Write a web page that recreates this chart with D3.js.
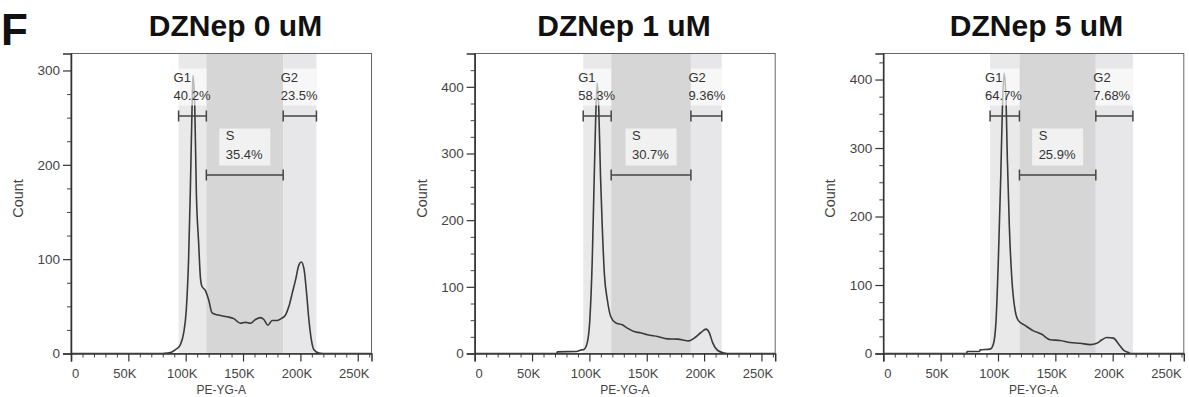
<!DOCTYPE html>
<html>
<head>
<meta charset="utf-8">
<script src="https://cdn.jsdelivr.net/npm/d3@7"></script>
<style>
  body { margin: 0; background: #fff; }
  text { font-family: "Liberation Sans", Arial, Helvetica, sans-serif; }
</style>
</head>
<body>
<svg id="fig" width="1189" height="397"></svg>
<script>
// ---- data ----
var panelTitles = ["DZNep 0 uM", "DZNep 1 uM", "DZNep 5 uM"];
var yMaxes = [318, 450, 438];
var yMajor = [[0, 100, 200, 300], [0, 100, 200, 300, 400], [0, 100, 200, 300, 400]];
var xTickK = [0, 50, 100, 150, 200, 250];
var xTickLabels = ["0", "50K", "100K", "150K", "200K", "250K"];

// gate limits in K units: [G1 start, S start, G2 start, G2 end]
var gates0 = [93.8, 118, 185, 214];
var gates1 = [94.6, 119, 188.5, 215.4];
var gates5 = [93.1, 118.7, 185.3, 217.6];
var g1Pct = ["40.2%", "58.3%", "64.7%"];
var sPct = ["35.4%", "30.7%", "25.9%"];
var g2Pct = ["23.5%", "9.36%", "7.68%"];

// histogram: PE-YG-A (K) and counts
var pe0 = [0, 80, 83.6, 88, 90.9, 95.3, 98.2, 100.5, 102.5, 104, 105.5, 106.3, 107.8, 109.3, 111.3, 112.8, 114.2, 117.1, 120, 123, 127.4, 136.1, 141.9, 147.7, 152.1, 156.5, 160.8, 165.2, 168.1, 171.6, 175.4, 179.8, 183.3, 187.1, 190, 192.9, 195.8, 198.7, 200.8, 203.1, 205.4, 207.4, 209.5, 211.8, 216.2, 220, 262];
var count0 = [0, 0, 0.4, 1.5, 3.9, 9.2, 21.5, 46, 99, 170, 258, 295, 268, 170, 117, 81, 71, 67, 57, 43, 41, 39, 37, 32, 33, 32, 36, 38, 36, 30, 35, 35, 37, 41, 50, 64, 78, 94, 97, 90, 64, 36, 15, 4, 0.4, 0, 0];
var pe1 = [0, 71.8, 72, 89, 92, 95.1, 98.1, 100.4, 102.5, 103.9, 105.3, 106.8, 108.2, 109.7, 111.2, 113.2, 115.6, 118.5, 122.9, 128.7, 133.1, 138.9, 144.7, 150.6, 159.4, 168.1, 176.9, 187, 191.4, 197.3, 201.7, 204.6, 207.5, 211.9, 217.7, 220, 262];
var count1 = [0, 0, 2.5, 3, 5, 6, 16, 51, 141, 241, 341, 406, 366, 266, 191, 116, 81, 56, 46, 43, 38, 33, 31, 28, 25.5, 22, 21.5, 19, 23, 31.5, 36.6, 31, 16, 4.5, 0.6, 0, 0];
var pe5 = [0, 72.8, 73, 84, 84.4, 93.1, 96, 98.3, 100.3, 102.4, 103.8, 105.3, 106.8, 108.2, 109.9, 112, 114.9, 117.8, 123.6, 130.9, 138.2, 145.5, 154.2, 162.9, 171.6, 180.4, 186.2, 190.6, 194.9, 200.7, 205.1, 209.4, 213.8, 216, 262];
var count5 = [0, 0, 3, 3, 5.4, 6.4, 14, 48, 136, 258, 355, 409, 380, 282, 185, 111, 63, 48, 41, 33, 28, 20, 19, 16, 15, 13, 15, 20, 23.4, 22.5, 14, 5, 1.5, 0, 0];

// ---- layout ----
var panelLeft = [71, 474.7, 883.3];
var titleX = [235.5, 624, 1036.5];
var plotTop = 53.5, plotH = 300, plotW = 300.5, xMaxK = 262;

var svg = d3.select("#fig");

svg.append("text").attr("x", 1).attr("y", 45)
  .attr("font-size", 44).attr("font-weight", "bold").attr("fill", "#111")
  .text("F");

var panels = [
  { pe: pe0, count: count0, gates: gates0 },
  { pe: pe1, count: count1, gates: gates1 },
  { pe: pe5, count: count5, gates: gates5 }
];

panels.forEach(function(p, i) {
  var left = panelLeft[i];
  var x = d3.scaleLinear().domain([0, xMaxK]).range([0, plotW]);
  var y = d3.scaleLinear().domain([0, yMaxes[i]]).range([plotH, 0]);

  svg.append("text").attr("x", titleX[i]).attr("y", 36)
    .attr("text-anchor", "middle").attr("font-size", 30).attr("font-weight", "bold")
    .attr("fill", "#111").text(panelTitles[i]);

  var g = svg.append("g").attr("transform", "translate(" + left + "," + plotTop + ")");

  g.append("clipPath").attr("id", "clip" + i)
    .append("rect").attr("width", plotW).attr("height", plotH);

  var gt = p.gates;
  var bands = [[gt[0], gt[1], "#e9e9e9"], [gt[1], gt[2], "#d6d6d6"], [gt[2], gt[3], "#e7e7e9"]];
  g.selectAll("rect.band").data(bands).enter().append("rect")
    .attr("class", "band")
    .attr("x", function(d) { return x(d[0]); })
    .attr("width", function(d) { return x(d[1]) - x(d[0]); })
    .attr("y", 0).attr("height", plotH)
    .attr("fill", function(d) { return d[2]; });

  // histogram
  var line = d3.line()
    .x(function(d) { return x(d[0]); })
    .y(function(d) { return y(d[1]); })
    .curve(d3.curveMonotoneX);
  g.append("path")
    .datum(d3.zip(p.pe, p.count))
    .attr("clip-path", "url(#clip" + i + ")")
    .attr("d", line)
    .attr("fill", "none").attr("stroke", "#3a3a3a").attr("stroke-width", 1.6);

  // label boxes
  var sMid = (x(gt[1]) + x(gt[2])) / 2;
  var boxes = [
    [x(gt[0]), 15, x(gt[1]) - x(gt[0]), 37],
    [x(gt[2]), 15, x(gt[3]) - x(gt[2]), 37],
    [sMid - 25.5, 75, 51, 37]
  ];
  g.selectAll("rect.lbl").data(boxes).enter().append("rect")
    .attr("class", "lbl")
    .attr("x", function(d) { return d[0]; }).attr("y", function(d) { return d[1]; })
    .attr("width", function(d) { return d[2]; }).attr("height", function(d) { return d[3]; })
    .attr("fill", "#fff").attr("opacity", 0.65);

  // gate bars
  var bars = [[gt[0], gt[1], 62.5], [gt[2], gt[3], 62.5], [gt[1], gt[2], 121.5]];
  bars.forEach(function(b) {
    var bg = g.append("g").attr("stroke", "#444").attr("stroke-width", 1.5);
    bg.append("line").attr("x1", x(b[0])).attr("x2", x(b[1])).attr("y1", b[2]).attr("y2", b[2]);
    bg.append("line").attr("x1", x(b[0])).attr("x2", x(b[0])).attr("y1", b[2] - 5.5).attr("y2", b[2] + 5.5);
    bg.append("line").attr("x1", x(b[1])).attr("x2", x(b[1])).attr("y1", b[2] - 5.5).attr("y2", b[2] + 5.5);
  });

  // gate labels
  var labels = [
    [x(gt[0]) - 5, 28, "G1", g1Pct[i]],
    [x(gt[2]) - 2.5, 28, "G2", g2Pct[i]],
    [sMid - 19, 86.5, "S", sPct[i]]
  ];
  labels.forEach(function(l) {
    var t = g.append("text").attr("font-size", 13).attr("fill", "#333");
    t.append("tspan").attr("x", l[0]).attr("y", l[1]).text(l[2]);
    t.append("tspan").attr("x", l[0]).attr("y", l[1] + 18.8).text(l[3]);
  });

  // frame
  g.append("rect").attr("width", plotW).attr("height", plotH)
    .attr("fill", "none").attr("stroke", "#666").attr("stroke-width", 1);

  // y axis
  var yMinor = d3.range(0, yMaxes[i], 25).filter(function(v) { return v % 100 !== 0; });
  g.append("g").call(d3.axisLeft(y).tickValues(yMinor).tickSize(4).tickFormat(""))
    .call(function(a) { a.select(".domain").remove(); a.selectAll("line").attr("stroke", "#444"); });
  var ya = g.append("g").call(d3.axisLeft(y).tickValues(yMajor[i]).tickSize(8).tickPadding(3));
  ya.select(".domain").attr("stroke", "#333").attr("stroke-width", 1.5);
  ya.selectAll("line").attr("stroke", "#333").attr("stroke-width", 1.2);
  ya.selectAll("text").attr("font-size", 13.5).attr("fill", "#444")
    .attr("font-family", "'Liberation Sans', Arial, sans-serif");

  // x axis
  var xMinor = d3.range(10, xMaxK, 10).filter(function(v) { return v % 50 !== 0; });
  g.append("g").attr("transform", "translate(0," + plotH + ")")
    .call(d3.axisBottom(x).tickValues(xMinor).tickSize(4).tickFormat(""))
    .call(function(a) { a.select(".domain").remove(); a.selectAll("line").attr("stroke", "#444"); });
  var xa = g.append("g").attr("transform", "translate(0," + plotH + ")")
    .call(d3.axisBottom(x).tickValues(xTickK).tickSize(8).tickPadding(7)
      .tickFormat(function(d, k) { return xTickLabels[k]; }));
  xa.select(".domain").attr("stroke", "#333").attr("stroke-width", 1.5);
  xa.selectAll("line").attr("stroke", "#333").attr("stroke-width", 1.2);
  xa.selectAll("text").attr("font-size", 13).attr("fill", "#444")
    .attr("font-family", "'Liberation Sans', Arial, sans-serif")
    .attr("dx", function(d) { return d === 0 ? 4 : -4; });

  // axis titles
  g.append("text").attr("x", plotW / 2).attr("y", plotH + 40.5)
    .attr("text-anchor", "middle").attr("font-size", 12).attr("fill", "#444").text("PE-YG-A");
  g.append("text").attr("transform", "translate(-48," + (plotH / 2 - 5) + ") rotate(-90)")
    .attr("text-anchor", "middle").attr("font-size", 14.5).attr("fill", "#444").text("Count");
});
</script>
</body>
</html>
